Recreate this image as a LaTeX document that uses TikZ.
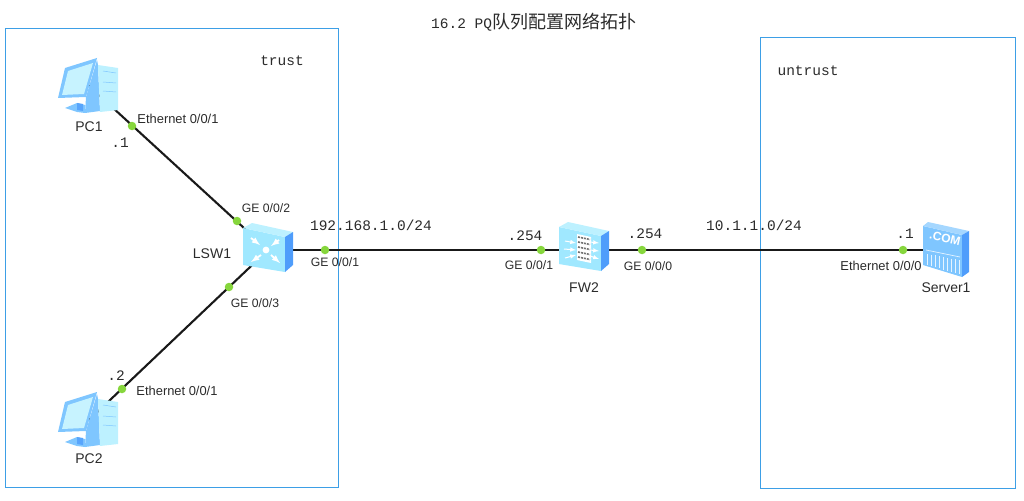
\documentclass[tikz,border=0pt]{standalone}
\usepackage{fontspec}
\setmainfont{Liberation Sans}
\setmonofont{Liberation Mono}
\newfontfamily\cjk{Noto Sans CJK SC}
\definecolor{framecol}{HTML}{3D9FE6}
\definecolor{faceA}{HTML}{A0E8FF}
\definecolor{faceB}{HTML}{BDF1FF}
\definecolor{faceC}{HTML}{4F9DFB}
\definecolor{faceD}{HTML}{7FC6FF}
\definecolor{dotcol}{HTML}{86D63C}
\definecolor{textcol}{HTML}{2B2B2B}
\tikzset{
	zone/.style={draw=framecol, line width=0.9pt},
	link/.style={draw=black!90, line width=2.1pt},
	device/.style={inner sep=0pt, outer sep=0pt},
	portdot/.style={circle, fill=dotcol, inner sep=0pt, minimum size=8.5pt},
	portlbl/.style={font=\fontsize{12.2}{14}\selectfont, text=textcol, inner sep=0pt},
	ethlbl/.style={font=\fontsize{12.9}{14}\selectfont, text=textcol, inner sep=0pt},
	devlbl/.style={font=\fontsize{14}{15}\selectfont, text=textcol, inner sep=0pt},
	addr/.style={font=\ttfamily\fontsize{14.5}{16}\selectfont, text=textcol, inner sep=0pt},
}
\newcommand{\pcicon}[2]{
	\begin{scope}[shift={(#1,#2)}]
		\fill[faceD] (9,-25) -- (10,-20) -- (12,26) -- (-3,28) -- (-2,12) -- cycle;
		\fill[faceB] (10,-20) -- (30,-17) -- (30,25) -- (12,27) -- cycle;
		\draw[faceD, line width=0.5pt] (15,-14) -- (28,-12) (15,-3) -- (28,-2) (15,6) -- (28,7);
		\fill[faceD] (-23,23) -- (-11,18) -- (-3,20) -- (-3,28) -- (-11,27) -- cycle;
		\fill[faceC!80!faceD] (-11,18) -- (-5,19) -- (-5,26) -- (-11,25) -- cycle;
		\fill[faceD] (-23,-17) -- (9,-27) -- (-2,12) -- (-30,13) -- cycle;
		\fill[faceB!85!white] (-20,-14) -- (5,-22) -- (-4,9) -- (-26,10) -- cycle;
	\end{scope}
}
\newcommand{\boxicon}[2]{
	\begin{scope}[shift={(#1,#2)}]
		\fill[faceA] (-25,-22) -- (17,-13) -- (17,22) -- (-25,15) -- cycle;
		\fill[faceB] (-25,-22) -- (-16,-27) -- (25,-18) -- (17,-13) -- cycle;
		\fill[faceC] (17,-13) -- (25,-18) -- (25,15) -- (17,22) -- cycle;
	\end{scope}
}
\newcommand{\swarrows}[2]{
	\begin{scope}[shift={(#1,#2)}, white, line width=1.8pt, >=latex]
		\draw[->] (-17,-12) -- (-8,-5);
		\draw[->] (11,-10) -- (3,-4);
		\draw[->] (-7,5) -- (-17,12);
		\draw[->] (3,5) -- (12,13);
		\fill (-2,0) circle (3.4);
	\end{scope}
}
\newcommand{\fwarrows}[2]{
	\begin{scope}[shift={(#1,#2)}, >=latex]
		\draw[white, line width=1pt, ->] (-19,-8) -- (-8,-6);
		\draw[white, line width=1pt, ->] (-20,0) -- (-8,1);
		\draw[white, line width=1pt, ->] (-19,9) -- (-8,6);
		\draw[white, line width=1pt, ->] (6,-7) -- (15,-6);
		\draw[white, line width=1pt, ->] (6,1) -- (15,2);
		\draw[white, line width=1pt, ->] (6,7) -- (15,10);
		\fill[white] (-7,-15) -- (7,-12) -- (7,14) -- (-7,11) -- cycle;
		\foreach \yy in {-12,-7,-2,3,8}{
			\draw[black!55, line width=1.6pt, dash pattern=on 2pt off 1pt] (-6,\yy) -- (6,\yy+2.5);
		}
	\end{scope}
}
\newcommand{\srvicon}[2]{
	\begin{scope}[shift={(#1,#2)}]
		\fill[faceD] (-23,-24) -- (16,-15) -- (16,27) -- (-23,15) -- cycle;
		\fill[faceD!70!white] (-23,-24) -- (-18,-28) -- (23,-19) -- (16,-15) -- cycle;
		\fill[faceC] (16,-15) -- (23,-19) -- (23,22) -- (16,27) -- cycle;
		\foreach \xx in {-19,-15,...,13}{
			\draw[white!80!faceD, line width=0.7pt] (\xx,{3+(\xx+23)*0.2}) -- (\xx,{14+(\xx+23)*0.28});
		}
		\draw[white!80!faceD, line width=0.7pt] (-20,0) -- (14,7);
	\end{scope}
}

\begin{document}
\begin{tikzpicture}[x=1pt, y=-1pt]
	\useasboundingbox (0,0) rectangle (1024,500);

	%%%%% zones %%%%%
	\draw[zone] (5,28) rectangle (338,487);
	\draw[zone] (760,37) rectangle (1015,488);

	%%%%% devices %%%%%
	\node[device] (pc1) at (88,85) {};
	\node[device] (pc2) at (89,420) {};
	\node[device] (lsw1) at (268,250) {};
	\node[device] (fw2) at (584,250) {};
	\node[device] (server1) at (946,250) {};

	%%%%% links %%%%%
	\draw[link] (pc1) -- (lsw1);
	\draw[link] (pc2) -- (lsw1);
	\draw[link] (lsw1) -- (fw2);
	\draw[link] (fw2) -- (server1);

	\pcicon{88}{85}
	\pcicon{88}{419}
	\boxicon{268}{250}
	\swarrows{268}{250}
	\boxicon{584}{249}
	\fwarrows{584}{249}
	\srvicon{946}{250}
	\node[rotate=-13, font=\bfseries\fontsize{12}{14}\selectfont, text=white, inner sep=0pt] (comtxt) at (945,238) {.COM};

	%%%%% ports %%%%%
	\node[portdot] (dotA) at (132,126) {};
	\node[portdot] (dotB) at (237,221) {};
	\node[portdot] (dotC) at (229,287) {};
	\node[portdot] (dotD) at (122,389) {};
	\node[portdot] (dotE) at (325,250) {};
	\node[portdot] (dotF) at (541,250) {};
	\node[portdot] (dotG) at (642,250) {};
	\node[portdot] (dotH) at (903,250) {};

	%%%%% labels %%%%%
	\node[ethlbl] (lblA) at (178,119) {Ethernet 0/0/1};
	\node[portlbl] (lblB) at (266,208) {GE 0/0/2};
	\node[portlbl] (lblC) at (255,303) {GE 0/0/3};
	\node[ethlbl] (lblD) at (177,391) {Ethernet 0/0/1};
	\node[portlbl] (lblE) at (335,262) {GE 0/0/1};
	\node[portlbl] (lblF) at (529,265) {GE 0/0/1};
	\node[portlbl] (lblG) at (648,266) {GE 0/0/0};
	\node[ethlbl] (lblH) at (881,266) {Ethernet 0/0/0};

	\node[devlbl] (namePCa) at (89,127) {PC1};
	\node[devlbl] (namePCb) at (89,459) {PC2};
	\node[devlbl] (nameSW) at (212,254) {LSW1};
	\node[devlbl] (nameFW) at (584,288) {FW2};
	\node[devlbl] (nameSRV) at (946,288) {Server1};

	\node[addr] (ipA) at (120,143) {.1};
	\node[addr] (ipB) at (116,376) {.2};
	\node[addr] (ipC) at (371,225) {192.168.1.0/24};
	\node[addr] (ipD) at (525,236) {.254};
	\node[addr] (ipE) at (645,234) {.254};
	\node[addr] (ipF) at (754,225) {10.1.1.0/24};
	\node[addr] (ipG) at (905,234) {.1};
	\node[addr] (zoneA) at (282,61) {trust};
	\node[addr] (zoneB) at (808,71) {untrust};

	\node[addr, anchor=west] (title) at (431,22) {16.2 PQ{\cjk\fontsize{18}{20}\selectfont 队列配置网络拓扑}};
\end{tikzpicture}
\end{document}
